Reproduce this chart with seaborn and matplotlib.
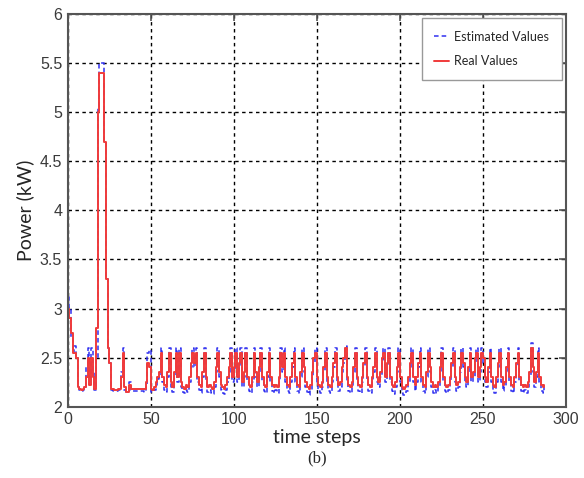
import numpy as np
import pandas as pd
import matplotlib.pyplot as plt
import seaborn as sns

# Power readings per time step (kW)
real_values = [
    3.00, 2.90, 2.75, 2.55, 2.55, 2.50, 2.20, 2.18, 2.17, 2.18, 2.20, 2.30,
    2.50, 2.22, 2.50, 2.30, 2.18, 2.80, 5.00, 5.40, 5.40, 5.40, 4.70, 3.30,
    2.60, 2.45, 2.18, 2.18, 2.17, 2.17, 2.18, 2.18, 2.30, 2.55, 2.20, 2.15,
    2.15, 2.22, 2.18, 2.18, 2.18, 2.18, 2.18, 2.18, 2.18, 2.18, 2.18, 2.25,
    2.45, 2.40, 2.18, 2.17, 2.20, 2.25, 2.30, 2.35, 2.55, 2.30, 2.22, 2.20,
    2.35, 2.55, 2.25, 2.20, 2.35, 2.55, 2.30, 2.55, 2.25, 2.20, 2.18, 2.22,
    2.20, 2.30, 2.45, 2.55, 2.45, 2.55, 2.30, 2.22, 2.20, 2.35, 2.55, 2.30,
    2.20, 2.22, 2.20, 2.18, 2.25, 2.40, 2.55, 2.35, 2.22, 2.20, 2.18, 2.22,
    2.30, 2.40, 2.55, 2.30, 2.40, 2.55, 2.30, 2.45, 2.55, 2.25, 2.35, 2.55,
    2.30, 2.22, 2.20, 2.30, 2.55, 2.35, 2.25, 2.40, 2.55, 2.30, 2.22, 2.20,
    2.35, 2.55, 2.30, 2.22, 2.20, 2.22, 2.20, 2.30, 2.55, 2.40, 2.55, 2.30,
    2.22, 2.20, 2.30, 2.45, 2.55, 2.30, 2.22, 2.20, 2.35, 2.55, 2.40, 2.25,
    2.20, 2.18, 2.22, 2.35, 2.50, 2.55, 2.30, 2.22, 2.20, 2.25, 2.40, 2.55,
    2.30, 2.22, 2.20, 2.30, 2.45, 2.55, 2.30, 2.22, 2.25, 2.40, 2.50, 2.60,
    2.30, 2.22, 2.20, 2.25, 2.40, 2.55, 2.30, 2.22, 2.20, 2.30, 2.45, 2.55,
    2.30, 2.22, 2.20, 2.30, 2.40, 2.55, 2.30, 2.25, 2.35, 2.50, 2.55, 2.30,
    2.45, 2.55, 2.30, 2.22, 2.20, 2.25, 2.40, 2.55, 2.30, 2.20, 2.18, 2.20,
    2.22, 2.30, 2.45, 2.55, 2.30, 2.22, 2.30, 2.45, 2.55, 2.30, 2.22, 2.20,
    2.35, 2.55, 2.40, 2.25, 2.20, 2.22, 2.20, 2.25, 2.40, 2.55, 2.30, 2.22,
    2.20, 2.22, 2.30, 2.45, 2.55, 2.30, 2.22, 2.25, 2.40, 2.55, 2.45, 2.30,
    2.25, 2.40, 2.55, 2.30, 2.35, 2.50, 2.55, 2.30, 2.40, 2.55, 2.50, 2.30,
    2.25, 2.40, 2.55, 2.30, 2.22, 2.20, 2.30, 2.45, 2.55, 2.30, 2.22, 2.25,
    2.40, 2.55, 2.30, 2.22, 2.20, 2.30, 2.45, 2.55, 2.30, 2.22, 2.20, 2.22,
    2.20, 2.25, 2.35, 2.60, 2.40, 2.25, 2.35, 2.55, 2.30, 2.22, 2.20, 2.22,
]

estimated_values = [
    3.12, 3.00, 2.70, 2.55, 2.62, 2.50, 2.20, 2.17, 2.16, 2.17, 2.20, 2.40,
    2.60, 2.30, 2.60, 2.35, 2.17, 2.50, 5.05, 5.50, 5.50, 5.50, 4.70, 3.30,
    2.60, 2.45, 2.17, 2.16, 2.16, 2.16, 2.17, 2.17, 2.35, 2.60, 2.17, 2.15,
    2.15, 2.25, 2.17, 2.16, 2.16, 2.16, 2.16, 2.16, 2.16, 2.16, 2.15, 2.20,
    2.55, 2.58, 2.15, 2.15, 2.17, 2.22, 2.28, 2.30, 2.60, 2.25, 2.17, 2.15,
    2.30, 2.60, 2.20, 2.15, 2.30, 2.60, 2.25, 2.60, 2.20, 2.15, 2.14, 2.17,
    2.15, 2.25, 2.40, 2.60, 2.40, 2.60, 2.25, 2.17, 2.14, 2.30, 2.60, 2.25,
    2.15, 2.17, 2.14, 2.13, 2.20, 2.35, 2.60, 2.30, 2.17, 2.14, 2.13, 2.17,
    2.25, 2.35, 2.60, 2.25, 2.35, 2.60, 2.25, 2.40, 2.60, 2.20, 2.30, 2.60,
    2.25, 2.16, 2.14, 2.25, 2.60, 2.30, 2.20, 2.35, 2.60, 2.25, 2.16, 2.14,
    2.30, 2.60, 2.25, 2.16, 2.14, 2.17, 2.14, 2.25, 2.60, 2.35, 2.60, 2.25,
    2.16, 2.14, 2.25, 2.40, 2.60, 2.25, 2.16, 2.14, 2.30, 2.60, 2.35, 2.20,
    2.15, 2.12, 2.17, 2.30, 2.45, 2.60, 2.25, 2.16, 2.14, 2.20, 2.35, 2.60,
    2.25, 2.16, 2.14, 2.25, 2.40, 2.60, 2.25, 2.16, 2.20, 2.35, 2.45, 2.62,
    2.25, 2.16, 2.14, 2.20, 2.35, 2.60, 2.25, 2.16, 2.14, 2.25, 2.40, 2.60,
    2.25, 2.16, 2.14, 2.25, 2.35, 2.60, 2.25, 2.20, 2.30, 2.45, 2.60, 2.25,
    2.40, 2.60, 2.25, 2.16, 2.13, 2.20, 2.35, 2.60, 2.25, 2.14, 2.12, 2.14,
    2.16, 2.25, 2.40, 2.60, 2.25, 2.16, 2.25, 2.40, 2.60, 2.25, 2.16, 2.14,
    2.30, 2.60, 2.35, 2.20, 2.14, 2.17, 2.14, 2.20, 2.35, 2.60, 2.25, 2.16,
    2.14, 2.17, 2.25, 2.40, 2.60, 2.25, 2.16, 2.20, 2.35, 2.60, 2.40, 2.25,
    2.20, 2.35, 2.60, 2.25, 2.30, 2.45, 2.60, 2.25, 2.35, 2.60, 2.45, 2.25,
    2.20, 2.35, 2.60, 2.25, 2.16, 2.14, 2.25, 2.40, 2.60, 2.25, 2.16, 2.20,
    2.35, 2.60, 2.25, 2.16, 2.14, 2.25, 2.40, 2.60, 2.25, 2.16, 2.14, 2.17,
    2.14, 2.20, 2.30, 2.65, 2.35, 2.20, 2.30, 2.60, 2.25, 2.16, 2.14, 2.20,
]

time_steps = np.arange(len(real_values))
x_ticks = [0, 50, 100, 150, 200, 250, 300]
y_ticks = [2, 2.5, 3, 3.5, 4, 4.5, 5, 5.5, 6]
y_tick_labels = ['2', '2.5', '3', '3.5', '4', '4.5', '5', '5.5', '6']

df = pd.DataFrame({'t': time_steps, 'real': real_values, 'est': estimated_values})

sns.set_style('white')
plt.rcParams['font.family'] = ['Liberation Sans', 'DejaVu Sans']

fig = plt.figure(figsize=(5.84, 4.78), dpi=100)
ax = fig.add_axes([0.116, 0.149, 0.853, 0.822])

# Estimated first (blue dashed), real on top (red solid)
sns.lineplot(data=df, x='t', y='est', ax=ax, color='#3030f0', linestyle=(0, (3, 2)),
             linewidth=1.1, drawstyle='steps-post', label='Estimated Values')
sns.lineplot(data=df, x='t', y='real', ax=ax, color='#f03a3a', linewidth=1.4,
             drawstyle='steps-post', label='Real Values')

ax.set_xlim(0, 300)
ax.set_ylim(2, 6)
ax.set_xticks(x_ticks)
ax.set_yticks(y_ticks)
ax.set_xticklabels([str(v) for v in x_ticks])
ax.set_yticklabels(y_tick_labels)

# MATLAB-like grid and box
ax.grid(True, color='black', linestyle=(0, (2.5, 2.5)), linewidth=1.0)
for spine in ax.spines.values():
    spine.set_visible(True)
    spine.set_edgecolor('#555555')
    spine.set_linewidth(1.5)
ax.tick_params(direction='in', length=5, width=1.2, color='#555555',
               top=True, right=True, labelsize=11.5, labelcolor='#3a3a3a', pad=4)

ax.set_xlabel('time steps', fontsize=14, family=['Lato', 'DejaVu Sans'], labelpad=1)
ax.set_ylabel('Power (kW)', fontsize=14, family=['Lato', 'DejaVu Sans'], labelpad=4)

leg = ax.legend(loc='upper right', handlelength=1.2, handletextpad=0.4,
                borderpad=1.0, labelspacing=1.0, fancybox=False, framealpha=1,
                borderaxespad=0.35, prop={'family': ['Lato', 'DejaVu Sans'], 'size': 9})
leg.get_frame().set_edgecolor('#999999')
leg.get_frame().set_linewidth(1.0)

fig.text(0.543, 0.042, '(b)', ha='center', va='center', fontsize=12,
         family=['Liberation Serif', 'DejaVu Serif'])

plt.savefig('out.png', dpi=100)
